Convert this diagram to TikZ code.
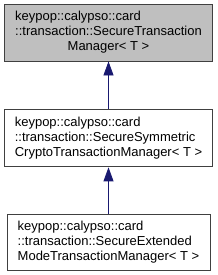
\documentclass[tikz,border=0pt]{standalone}
\usepackage{fontspec}
\setmainfont{Liberation Sans}
\usepackage{tikz}
\usetikzlibrary{arrows.meta,positioning}
\definecolor{dxBlue}{RGB}{25,25,112}
\definecolor{dxGray}{RGB}{191,191,191}
\definecolor{dxEdge}{RGB}{64,64,64}

\begin{document}
\begin{tikzpicture}[
    cls/.style={draw=dxEdge,line width=0.9pt,fill=white,inner sep=0pt,font=\fontsize{13}{15}\selectfont,minimum height=57pt},
    inherit/.style={{Triangle[length=14pt,width=10pt]}-,draw=dxBlue,fill=dxBlue,line width=0.8pt}
  ]
    \useasboundingbox (0,0) rectangle (217pt,-275pt);
    \node[cls,fill=dxGray,minimum width=208pt] (secure) at (108.5pt,-32.5pt)
      {\begin{tabular}{@{}l@{}}keypop::calypso::card\\::transaction::SecureTransaction\\\multicolumn{1}{@{}c@{}}{Manager< T >}\end{tabular}};
    \node[cls,minimum width=208pt,below=48pt of secure] (symmetric)
      {\begin{tabular}{@{}l@{}}keypop::calypso::card\\::transaction::SecureSymmetric\\CryptoTransactionManager< T >\end{tabular}};
    \node[cls,minimum width=203pt,minimum height=56pt,below=47pt of symmetric] (extended)
      {\begin{tabular}{@{}l@{}}keypop::calypso::card\\::transaction::SecureExtended\\ModeTransactionManager< T >\end{tabular}};
    \draw[inherit] (secure) -- (symmetric);
    \draw[inherit] (symmetric) -- (extended);
  \end{tikzpicture}
\end{document}
